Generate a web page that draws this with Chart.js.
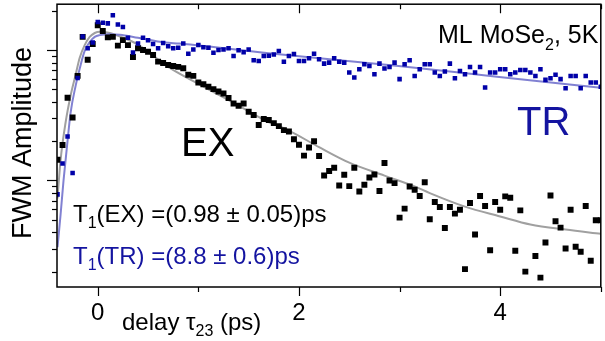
<!DOCTYPE html>
<html>
<head>
<meta charset="utf-8">
<script src="https://cdn.jsdelivr.net/npm/chart.js@4.4.1/dist/chart.umd.min.js"></script>
<style>
  html, body { margin: 0; padding: 0; background: #fff; }
  #wrap { width: 605px; height: 341px; }
</style>
</head>
<body>
<div id="wrap"><canvas id="fwmChart" width="605" height="341"></canvas></div>
<script>
// delay grid (ps) shared by both measured series
const delays = [
  -0.40, -0.35, -0.30, -0.25, -0.20, -0.15, -0.10, -0.05,
  0.00, 0.05, 0.10, 0.15, 0.20, 0.25, 0.30, 0.35, 0.40, 0.45, 0.50, 0.55, 0.60, 0.65, 0.70, 0.75, 0.80, 0.85, 0.90, 0.95,
  1.00, 1.05, 1.10, 1.15, 1.20, 1.25, 1.30, 1.35, 1.40, 1.45, 1.50, 1.55, 1.60, 1.65, 1.70, 1.75, 1.80, 1.85, 1.90, 1.95,
  2.00, 2.05, 2.10, 2.15, 2.20, 2.25, 2.30, 2.35, 2.40, 2.45, 2.50, 2.55, 2.60, 2.65, 2.70, 2.75, 2.80, 2.85, 2.90, 2.95,
  3.00, 3.05, 3.10, 3.15, 3.20, 3.25, 3.30, 3.35, 3.40, 3.45, 3.50, 3.55, 3.60, 3.65, 3.70, 3.75, 3.80, 3.85, 3.90, 3.95,
  4.00, 4.05, 4.10, 4.15, 4.20, 4.25, 4.30, 4.35, 4.40, 4.45, 4.50, 4.55, 4.60, 4.65, 4.70, 4.75, 4.80, 4.85, 4.90, 4.95,
  5.00
];

// TR (blue squares)
const trAmp = [
  0.782, 1.35, 2.17, 1.14, 6.11, 12.7, 10.3, 11.4,
  16.4, 16.2, 16.0, 18.5, 15.7, 15.0, 12.4, 9.57, 11.2, 12.4, 11.9, 11.1, 10.3, 11.3, 10.7, 10.3, 10.4, 11.2, 9.37, 10.1,
  10.9, 10.5, 10.4, 9.54, 10.0, 10.1, 10.3, 9.0, 9.95, 9.6, 10.1, 8.35, 8.24, 9.0, 9.04, 9.24, 9.83, 8.14, 9.0, 9.32,
  8.24, 8.24, 8.64, 9.37, 8.49, 7.86, 8.0, 8.64, 8.14, 8.0, 6.71, 6.15, 7.12, 7.78, 7.55, 6.52, 7.86, 7.2, 7.42, 8.0,
  5.98, 7.78, 8.35, 6.33, 7.12, 7.78, 7.78, 6.71, 6.33, 6.83, 7.86, 6.08, 6.91, 6.52, 7.42, 6.71, 7.42, 5.15, 6.71, 6.71,
  7.12, 7.12, 6.52, 6.71, 7.03, 7.03, 6.71, 6.33, 7.12, 5.90, 6.08, 6.45, 5.98, 5.10, 6.33, 6.33, 5.10, 6.33, 5.63, 5.63,
  5.22
];

// EX (black squares)
const exAmp = [
  1.44, 1.87, 4.30, 3.04, 6.33, 12.6, 8.43, 11.1,
  15.5, 14.0, 12.5, 12.6, 10.8, 11.9, 10.9, 8.85, 10.3, 10.0, 9.69, 9.16, 8.14, 7.96, 7.68, 7.55, 7.42, 7.25, 6.45, 6.33,
  5.63, 5.47, 5.22, 5.01, 4.81, 4.64, 4.28, 3.89, 3.74, 3.89, 3.36, 3.17, 2.66, 2.96, 2.91, 2.75, 2.61, 2.43, 2.37, 2.07,
  1.88, 1.55, 1.79, 2.0, 1.54, 1.09, 1.18, 1.25, 0.916, 1.105, 0.905, 1.25, 0.824, 0.927, 1.054, 1.11, 0.829, 1.36, 1.0, 0.954,
  0.519, 0.608, 0.90, 0.849, 0.759, 0.97, 0.504, 0.683, 0.625, 0.432, 0.625, 0.557, 0.597, 0.209, 0.671, 0.385, 0.759, 0.637, 0.292, 0.683,
  0.597, 0.755, 0.738, 0.289, 0.590, 0.20, null, 0.264, 0.18, 0.334, 0.768, 0.486, 0.435, 0.301, 0.597, 0.31, 0.284, 0.637, 0.242, 0.495,
  0.495
];

// fit curves
const exFitT = [-0.40, -0.37, -0.32, -0.27, -0.22, -0.18, -0.13, -0.08, -0.03, 0.02, 0.12, 0.22, 0.40, 0.70, 1.00, 1.35, 1.65, 1.90, 2.20, 2.50, 2.85, 3.15, 3.30, 3.65, 4.00, 4.30, 4.65, 5.00];
const exFit = [0.729, 1.42, 2.77, 4.46, 6.45, 8.69, 10.9, 12.6, 13.5, 13.8, 13.5, 12.7, 11.0, 7.42, 5.50, 3.94, 2.92, 2.41, 1.80, 1.37, 1.09, 0.90, 0.80, 0.63, 0.53, 0.46, 0.42, 0.39];

const trFitT = [-0.40, -0.37, -0.34, -0.31, -0.27, -0.22, -0.17, -0.13, -0.08, -0.03, 0.02, 0.12, 0.22, 0.40, 0.67, 0.81, 1.80, 2.99, 3.99, 5.00];
const trFit = [0.308, 0.541, 1.0, 1.69, 3.30, 5.31, 7.68, 9.83, 11.5, 12.6, 13.0, 13.2, 13.1, 12.4, 11.4, 11.2, 9.27, 7.55, 6.22, 5.13];

// axis ticks
const xTickValues = [0, 1, 2, 3, 4, 5];
const xTickLabels = ['0', '', '2', '', '4', ''];
const yMajorTicks = [1, 10];
const yMinorTicks = [0.2, 0.3, 0.4, 0.5, 0.6, 0.7, 0.8, 0.9, 2, 3, 4, 5, 6, 7, 8, 9, 20];

const FONT = '"Liberation Sans", Arial, sans-serif';
const BLUE = '#0000a8';
const TEXT_BLUE = '#1414a0';

function toPoints(xs, ys) {
  return xs.map((t, i) => ({ x: t, y: ys[i] }));
}

// text with subscripts: parts = [[text, isSub], ...]
function drawRich(ctx, parts, x, y, size, color) {
  ctx.fillStyle = color;
  let cx = x;
  parts.forEach(([t, sub]) => {
    const fs = sub ? Math.round(size * 0.65) : size;
    ctx.font = fs + 'px ' + FONT;
    ctx.fillText(t, cx, sub ? y + size * 0.27 : y);
    cx += ctx.measureText(t).width;
  });
}

const frameAndText = {
  id: 'frameAndText',
  afterDraw(chart) {
    const { ctx, chartArea: a } = chart;
    const xs = chart.scales.x;
    const ys = chart.scales.y;
    ctx.save();
    ctx.strokeStyle = '#000';
    ctx.lineWidth = 1.5;
    ctx.strokeRect(a.left, a.top, a.right - a.left, a.bottom - a.top);

    // x ticks: outward at bottom, inward at top
    ctx.lineWidth = 1.2;
    xTickValues.forEach((v, i) => {
      const px = Math.round(xs.getPixelForValue(v)) + 0.5;
      const len = xTickLabels[i] ? 9 : 5;
      ctx.beginPath();
      ctx.moveTo(px, a.bottom); ctx.lineTo(px, a.bottom + len);
      ctx.moveTo(px, a.top); ctx.lineTo(px, a.top + len);
      ctx.stroke();
    });
    // y ticks: outward on the left
    yMajorTicks.concat(yMinorTicks).forEach(v => {
      const py = Math.round(ys.getPixelForValue(v)) + 0.5;
      const len = yMajorTicks.includes(v) ? 10 : 5;
      ctx.beginPath();
      ctx.moveTo(a.left, py); ctx.lineTo(a.left - len, py);
      ctx.stroke();
    });

    // tick labels
    ctx.fillStyle = '#000';
    ctx.font = '24px ' + FONT;
    ctx.textAlign = 'center';
    ctx.textBaseline = 'alphabetic';
    xTickValues.forEach((v, i) => {
      if (!xTickLabels[i]) return;
      ctx.fillText(xTickLabels[i], xs.getPixelForValue(v), 320);
    });
    ctx.textAlign = 'left';

    // axis titles
    drawRich(ctx, [['delay \u03c4', false], ['23', true], [' (ps)', false]], 122, 330, 24, '#000');
    ctx.save();
    ctx.translate(31, 143);
    ctx.rotate(-Math.PI / 2);
    ctx.textAlign = 'center';
    ctx.font = '27px ' + FONT;
    ctx.fillStyle = '#000';
    ctx.fillText('FWM Amplitude', 0, 0);
    ctx.restore();

    // annotations
    drawRich(ctx, [['ML MoSe', false], ['2', true], [', 5K', false]], 438, 43, 25, '#000');
    drawRich(ctx, [['EX', false]], 181, 156, 40, '#000');
    drawRich(ctx, [['TR', false]], 517, 135, 40, TEXT_BLUE);
    drawRich(ctx, [['T', false], ['1', true], ['(EX) =(0.98 \u00b1 0.05)ps', false]], 73, 222, 24, '#000');
    drawRich(ctx, [['T', false], ['1', true], ['(TR) =(8.8 \u00b1 0.6)ps', false]], 73, 264, 24, TEXT_BLUE);
    ctx.restore();
  }
};

new Chart(document.getElementById('fwmChart'), {
  type: 'scatter',
  data: {
    datasets: [
      {
        label: 'TR',
        data: toPoints(delays, trAmp),
        pointStyle: 'rect',
        pointRadius: 3.2,
        pointBorderWidth: 0,
        backgroundColor: BLUE,
        borderColor: BLUE,
        order: 0
      },
      {
        label: 'EX',
        data: toPoints(delays, exAmp),
        pointStyle: 'rect',
        pointRadius: 4.2,
        pointBorderWidth: 0,
        backgroundColor: '#000',
        borderColor: '#000',
        order: 1
      },
      {
        label: 'TR fit',
        data: toPoints(trFitT, trFit),
        showLine: true,
        pointRadius: 0,
        borderColor: 'rgba(115, 115, 205, 0.9)',
        borderWidth: 2,
        cubicInterpolationMode: 'monotone',
        order: 2
      },
      {
        label: 'EX fit',
        data: toPoints(exFitT, exFit),
        showLine: true,
        pointRadius: 0,
        borderColor: '#a0a0a0',
        borderWidth: 2,
        cubicInterpolationMode: 'monotone',
        order: 3
      }
    ]
  },
  options: {
    responsive: false,
    animation: false,
    devicePixelRatio: 1,
    layout: { padding: { left: 57, right: 1, top: 3, bottom: 54 } },
    plugins: { legend: { display: false }, tooltip: { enabled: false } },
    scales: {
      x: { type: 'linear', display: false, min: -0.405, max: 5.0 },
      y: { type: 'logarithmic', display: false, min: 0.1525, max: 22.44 }
    }
  },
  plugins: [frameAndText]
});
</script>
</body>
</html>
